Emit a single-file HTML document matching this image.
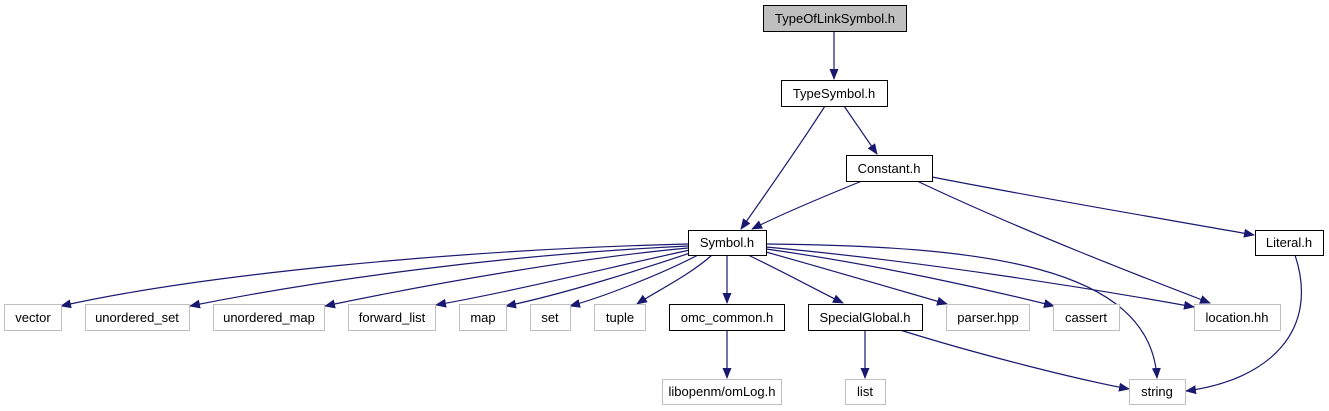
<!DOCTYPE html>
<html><head><meta charset="utf-8"><style>
body{margin:0;background:#fff;}
svg{display:block;font-family:"Liberation Sans",Arial,sans-serif;font-size:12px;}
</style></head><body>
<svg width="1329" height="411" viewBox="0 0 1329 411">
<defs><marker id="a" markerWidth="11" markerHeight="9" refX="10" refY="4.5" orient="auto" markerUnits="userSpaceOnUse"><path d="M0,0 L11,4.5 L0,9 Z" fill="#191970"/></marker></defs>
<g fill="none" stroke="#191970" stroke-width="1.2" marker-end="url(#a)">
<path d="M834,31 L834,79"/>
<path d="M825,106 C800,145 765,195 741,229"/>
<path d="M844,106 L877,154"/>
<path d="M862,181 C820,198 780,215 752,229"/>
<path d="M917,181 C1020,230 1150,280 1210,303"/>
<path d="M932,177 C1050,200 1170,220 1254,235"/>
<path d="M1295,255 C1320,330 1270,380 1186,391"/>
<path d="M688,244 C450,250 200,275 61,306"/>
<path d="M688,246 C500,255 320,280 190,306"/>
<path d="M688,248 C580,258 440,282 325,306"/>
<path d="M690,250 C620,265 520,290 436,305"/>
<path d="M693,252 C640,270 560,295 506,306"/>
<path d="M700,254 C660,275 600,298 570,306"/>
<path d="M712,255 C690,275 655,292 637,304"/>
<path d="M727,255 L727,303"/>
<path d="M748,255 C790,275 820,292 843,303"/>
<path d="M766,252 C830,270 900,290 947,304"/>
<path d="M766,249 C880,265 990,290 1054,306"/>
<path d="M766,247 C930,262 1100,290 1194,307"/>
<path d="M766,244 C980,246 1150,265 1157,378"/>
<path d="M727,330 L727,378"/>
<path d="M865,330 L865,378"/>
<path d="M900,330 C980,355 1080,380 1129,389"/>
</g>
<g stroke-width="1">
<rect x="763.5" y="5.5" width="143" height="26" fill="#bfbfbf" stroke="#000"/>
<rect x="781.5" y="80.5" width="106" height="26" fill="#fff" stroke="#000"/>
<rect x="846.5" y="155.5" width="86" height="26" fill="#fff" stroke="#000"/>
<rect x="688.5" y="230.5" width="78" height="25" fill="#fff" stroke="#000"/>
<rect x="1255.5" y="230.5" width="68" height="25" fill="#fff" stroke="#000"/>
<rect x="669.5" y="304.5" width="115" height="26" fill="#fff" stroke="#000"/>
<rect x="808.5" y="304.5" width="114" height="26" fill="#fff" stroke="#000"/>
<g fill="#fff" stroke="#bfbfbf">
<rect x="4.5" y="304.5" width="57" height="26"/>
<rect x="85.5" y="304.5" width="104" height="26"/>
<rect x="213.5" y="304.5" width="111" height="26"/>
<rect x="348.5" y="304.5" width="87" height="26"/>
<rect x="459.5" y="304.5" width="47" height="26"/>
<rect x="530.5" y="304.5" width="40" height="26"/>
<rect x="594.5" y="304.5" width="51" height="26"/>
<rect x="946.5" y="304.5" width="83" height="26"/>
<rect x="1053.5" y="304.5" width="66" height="26"/>
<rect x="1194.5" y="304.5" width="86" height="26"/>
<rect x="662.5" y="379.5" width="119" height="25"/>
<rect x="845.5" y="379.5" width="40" height="25"/>
<rect x="1129.5" y="379.5" width="56" height="25"/>
</g></g>
<g text-anchor="middle" fill="#000" font-size="13">
<text x="835" y="23">TypeOfLinkSymbol.h</text>
<text x="834" y="98">TypeSymbol.h</text>
<text x="889" y="173">Constant.h</text>
<text x="727" y="247">Symbol.h</text>
<text x="1289" y="247">Literal.h</text>
<text x="727" y="322">omc_common.h</text>
<text x="865" y="322">SpecialGlobal.h</text>
<text x="33" y="322">vector</text>
<text x="137" y="322">unordered_set</text>
<text x="269" y="322">unordered_map</text>
<text x="392" y="322">forward_list</text>
<text x="483" y="322">map</text>
<text x="550" y="322">set</text>
<text x="620" y="322">tuple</text>
<text x="988" y="322">parser.hpp</text>
<text x="1086" y="322">cassert</text>
<text x="1237" y="322">location.hh</text>
<text x="722" y="396">libopenm/omLog.h</text>
<text x="865" y="396">list</text>
<text x="1157" y="396">string</text>
</g>
</svg>
</body></html>
